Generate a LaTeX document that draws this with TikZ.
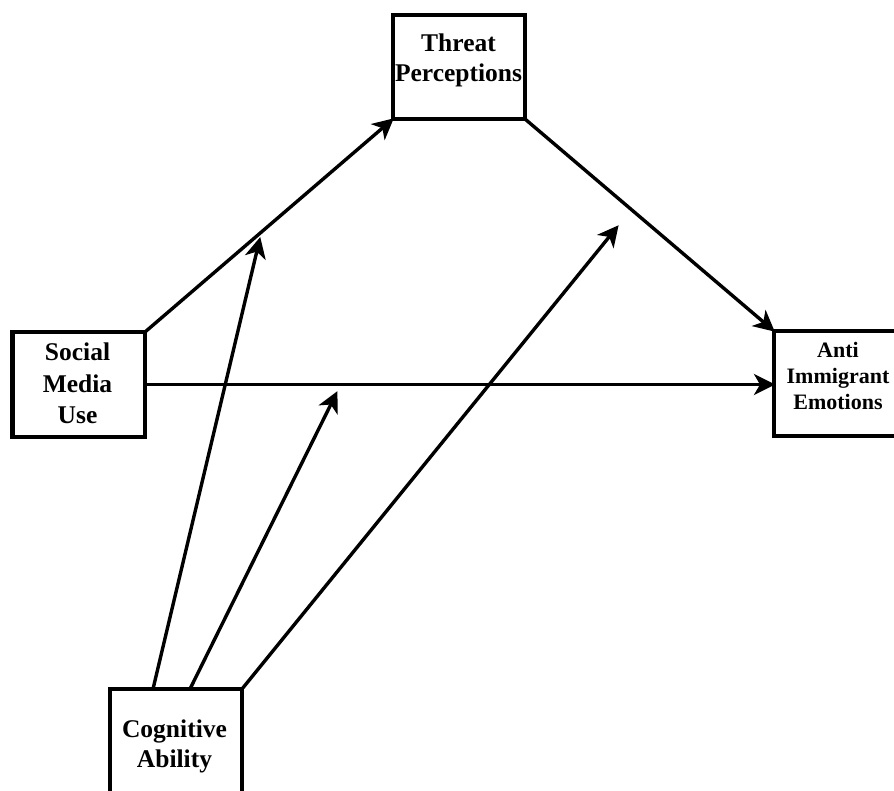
\documentclass[tikz,border=0pt]{standalone}
\usepackage{fontspec}
\setmainfont{Liberation Serif}
\usetikzlibrary{arrows.meta}
\begin{document}
\begin{tikzpicture}[x=1pt,y=-1pt,
  box/.style={draw=black, line width=4.5pt, fill=white, rectangle, outer sep=0pt, inner sep=0pt},
  lbl/.style={align=center, inner sep=0pt, font=\bfseries\fontsize{25.5}{30}\selectfont},
  lbls/.style={align=center, inner sep=0pt, font=\bfseries\fontsize{22}{26}\selectfont},
  conn/.style={line width=3.4pt, -{Stealth[length=21pt,width=21pt,inset=6pt]}, shorten >=-1pt}]
\useasboundingbox (0,0) rectangle (894,790);
\clip (0,0) rectangle (894,790);
\fill[white] (0,0) rectangle (894,790);
% boxes
\node[box, minimum width=132pt, minimum height=104pt] (thr) at (459,67) {};
\node[box, minimum width=132.5pt, minimum height=105pt] (soc) at (78.75,384.5) {};
\node[box, minimum width=128pt, minimum height=105pt] (anti) at (838,383.5) {};
\node[box, minimum width=132pt, minimum height=105pt] (cog) at (176,741.5) {};
% labels
\node[lbl] (thrT) at (458.5,60) {Threat\\Perceptions};
\node[lbl, font=\bfseries\fontsize{25.5}{31.5}\selectfont] (socT) at (77.5,383.5) {Social\\Media\\Use};
\node[lbls] (antiT) at (838,376) {Anti\\Immigrant\\Emotions};
\node[lbl] (cogT) at (174.5,746) {Cognitive\\Ability};
% free ends of moderation arrows
\coordinate (t1) at (260,238);
\coordinate (t2) at (337,392);
\coordinate (t3) at (618,226);
\coordinate (c1) at (153,689);
\coordinate (c2) at (190,689);
% connectors
\draw[conn] (soc.north east) -- (thr.south west);
\draw[conn] (thr.south east) -- (anti.north west);
\draw[conn] (soc.east) -- (soc.east -| anti.west);
\draw[conn] (c1) -- (t1);
\draw[conn] (c2) -- (t2);
\draw[conn] (cog.north east) -- (t3);
\end{tikzpicture}
\end{document}
